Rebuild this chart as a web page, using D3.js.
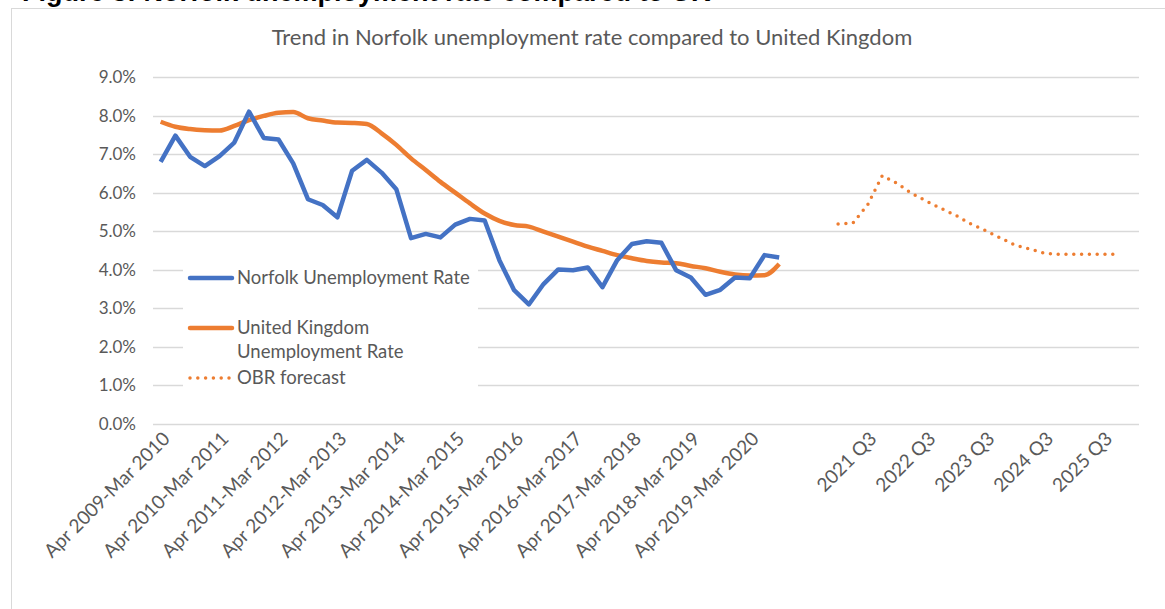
<!DOCTYPE html>
<html lang="en">
<head>
    <meta charset="UTF-8">
    <title>Norfolk unemployment rate</title>
    <script src="https://d3js.org/d3.v7.min.js"></script>
    <style>
        body { margin: 0; background: #fff; }
        svg { display: block; }
    </style>
</head>
<body>
    <svg id="chart" width="1165" height="609"></svg>

    <script>
        // data (percent)
        const norfolkRate = [6.80, 7.48, 6.93, 6.69, 6.95, 7.30, 8.10, 7.42, 7.38, 6.76,
            5.83, 5.68, 5.36, 6.57, 6.85, 6.52, 6.09, 4.82, 4.93, 4.84,
            5.17, 5.32, 5.28, 4.25, 3.47, 3.10, 3.63, 4.01, 3.99, 4.06,
            3.55, 4.25, 4.67, 4.74, 4.70, 3.99, 3.80, 3.35, 3.48, 3.80,
            3.78, 4.38, 4.32];
        const ukRate = [7.84, 7.71, 7.65, 7.62, 7.61, 7.73, 7.88, 7.99, 8.07, 8.09,
            7.93, 7.87, 7.82, 7.81, 7.78, 7.54, 7.24, 6.89, 6.59, 6.28,
            6.00, 5.72, 5.46, 5.27, 5.16, 5.12, 4.99, 4.86, 4.73, 4.60,
            4.49, 4.38, 4.30, 4.23, 4.19, 4.17, 4.10, 4.04, 3.95, 3.88,
            3.85, 3.86, 4.15];
        // OBR forecast starts at category 46
        const obrStart = 46;
        const obrForecast = [5.19, 5.21, 5.68, 6.44, 6.24, 5.98, 5.78, 5.59, 5.41, 5.19,
            5.02, 4.83, 4.64, 4.54, 4.43, 4.40, 4.40, 4.40, 4.40, 4.40];

        const categoryCount = 67;
        const tickIndex = [0, 4, 8, 12, 16, 20, 24, 28, 32, 36, 40, 48, 52, 56, 60, 64];
        const tickLabels = ["Apr 2009-Mar 2010", "Apr 2010-Mar 2011", "Apr 2011-Mar 2012",
            "Apr 2012-Mar 2013", "Apr 2013-Mar 2014", "Apr 2014-Mar 2015", "Apr 2015-Mar 2016",
            "Apr 2016-Mar 2017", "Apr 2017-Mar 2018", "Apr 2018-Mar 2019", "Apr 2019-Mar 2020",
            "2021 Q3", "2022 Q3", "2023 Q3", "2024 Q3", "2025 Q3"];
        const yTicks = [0, 1, 2, 3, 4, 5, 6, 7, 8, 9];

        const font = "Lato, 'Open Sans', sans-serif";
        const grey = "#595959";
        const blue = "#4472C4";
        const orange = "#ED7D31";

        const svg = d3.select("#chart");

        // heading of the page, mostly hidden behind the chart box
        svg.append("text")
            .attr("x", 22)
            .attr("y", 1)
            .attr("font-family", "'Liberation Sans', Arial, sans-serif")
            .attr("font-weight", "bold")
            .attr("font-size", 27)
            .attr("fill", "#000")
            .text("Figure 3: Norfolk unemployment rate compared to UK");

        // chart box
        svg.append("rect")
            .attr("x", 11.5).attr("y", 8.5)
            .attr("width", 1160).attr("height", 610)
            .attr("fill", "#fff")
            .attr("stroke", "#d9d9d9");

        svg.append("text")
            .attr("x", 592)
            .attr("y", 45)
            .attr("text-anchor", "middle")
            .attr("font-family", font)
            .attr("font-size", 22)
            .attr("fill", grey)
            .text("Trend in Norfolk unemployment rate compared to United Kingdom");

        const x = d3.scalePoint()
            .domain(d3.range(categoryCount))
            .range([153.3, 1140])
            .padding(0.5);
        const y = d3.scaleLinear().domain([0, 9]).range([424, 77]);

        // gridlines
        svg.append("g")
            .selectAll("line")
            .data(yTicks)
            .join("line")
            .attr("x1", 153).attr("x2", 1139)
            .attr("y1", d => Math.round(y(d)) + 0.5)
            .attr("y2", d => Math.round(y(d)) + 0.5)
            .attr("stroke", "#d9d9d9")
            .attr("stroke-width", 1.3);

        // y axis labels
        const yAxis = d3.axisLeft(y).tickValues(yTicks).tickSize(0).tickPadding(0)
            .tickFormat(d => d.toFixed(1) + "%");
        svg.append("g")
            .attr("transform", "translate(136,0)")
            .call(yAxis)
            .call(g => g.select(".domain").remove())
            .selectAll("text")
            .attr("font-family", font)
            .attr("font-size", 17)
            .attr("fill", grey);

        // x axis labels
        const xAxis = d3.axisBottom(x).tickValues(tickIndex).tickSize(0)
            .tickFormat((d, i) => tickLabels[i]);
        svg.append("g")
            .attr("transform", "translate(0,424)")
            .call(xAxis)
            .call(g => g.select(".domain").remove())
            .selectAll("text")
            .attr("font-family", font)
            .attr("font-size", 19)
            .attr("fill", grey)
            .attr("text-anchor", "end")
            .attr("dy", "0.35em")
            .attr("transform", "translate(3,9) rotate(-45)");

        const line = d3.line()
            .x(d => x(d.i))
            .y(d => y(d.v));

        const norfolkPts = norfolkRate.map((v, i) => ({ i, v }));
        const ukPts = ukRate.map((v, i) => ({ i, v }));
        const obrPts = obrForecast.map((v, k) => ({ i: obrStart + k, v }));

        svg.append("path")
            .datum(ukPts)
            .attr("d", line.curve(d3.curveMonotoneX))
            .attr("fill", "none")
            .attr("stroke", orange)
            .attr("stroke-width", 4.5)
            .attr("stroke-linejoin", "round");

        svg.append("path")
            .datum(norfolkPts)
            .attr("d", line.curve(d3.curveLinear))
            .attr("fill", "none")
            .attr("stroke", blue)
            .attr("stroke-width", 4.5)
            .attr("stroke-linejoin", "round");

        svg.append("path")
            .datum(obrPts)
            .attr("d", line.curve(d3.curveLinear))
            .attr("fill", "none")
            .attr("stroke", orange)
            .attr("stroke-width", 3.5)
            .attr("stroke-linecap", "round")
            .attr("stroke-dasharray", "0 7.8");

        // legend
        const legend = svg.append("g");
        legend.append("rect")
            .attr("x", 183).attr("y", 258)
            .attr("width", 295).attr("height", 136)
            .attr("fill", "#fff");

        const legendItems = [
            { lines: ["Norfolk Unemployment Rate"], color: blue, dash: null, y: 278 },
            { lines: ["United Kingdom", "Unemployment Rate"], color: orange, dash: null, y: 328 },
            { lines: ["OBR forecast"], color: orange, dash: "0 7.8", y: 378 }
        ];
        legendItems.forEach(item => {
            legend.append("line")
                .attr("x1", 190).attr("x2", item.dash ? 230 : 232)
                .attr("y1", item.y).attr("y2", item.y)
                .attr("stroke", item.color)
                .attr("stroke-width", item.dash ? 3.5 : 4.5)
                .attr("stroke-linecap", "round")
                .attr("stroke-dasharray", item.dash);
            item.lines.forEach((t, k) => {
                legend.append("text")
                    .attr("x", 237)
                    .attr("y", item.y + k * 24)
                    .attr("dy", "0.35em")
                    .attr("font-family", font)
                    .attr("font-size", 18.5)
                    .attr("fill", grey)
                    .text(t);
            });
        });
    </script>
</body>
</html>
